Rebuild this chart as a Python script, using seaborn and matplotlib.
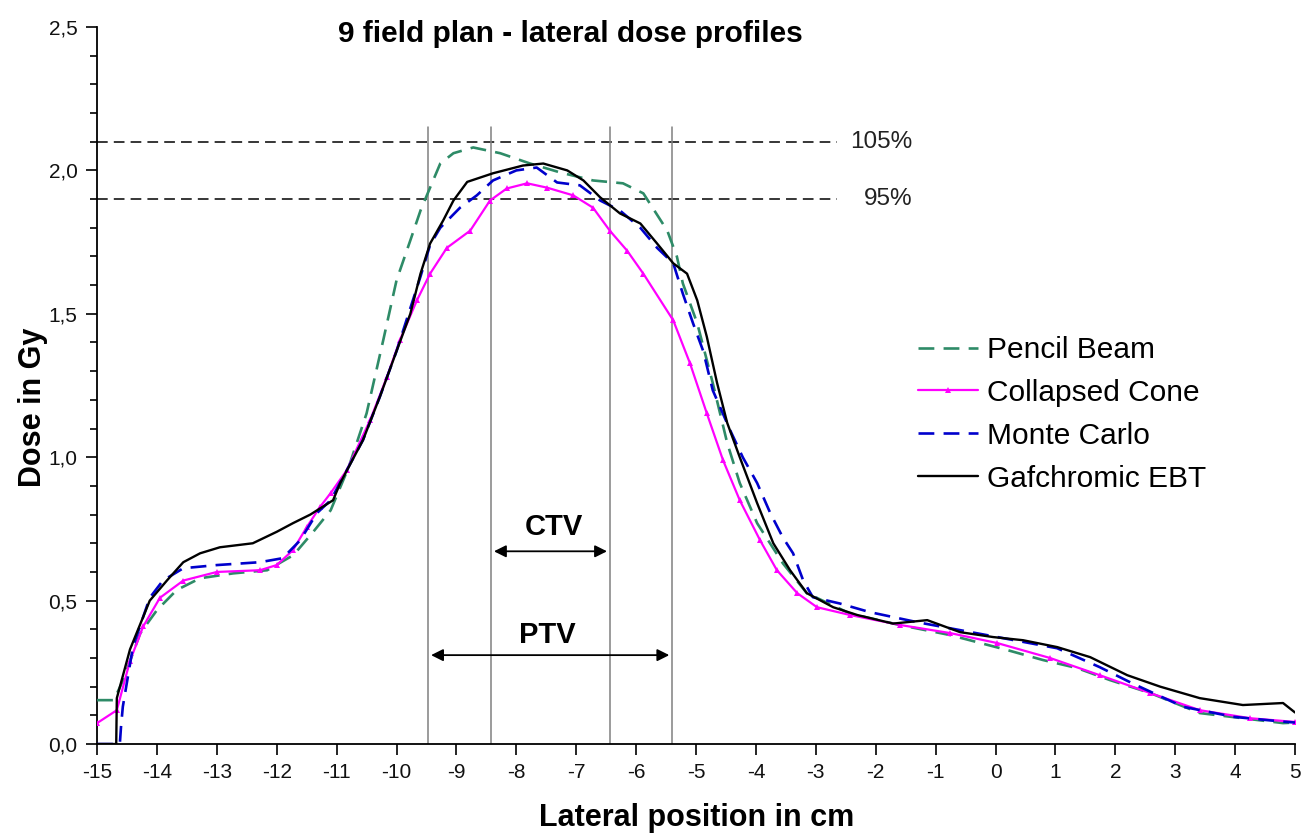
import matplotlib
matplotlib.use("Agg")
import matplotlib.pyplot as plt
import seaborn as sns
import pandas as pd

# 数据准备
pb_x = [-15.0, -14.72, -14.57, -14.28, -14.0, -13.67, -13.28, -12.73, -12.16, -11.72, -11.39, -11.1,
        -10.8, -10.5, -10.22, -10.0, -9.77, -9.6, -9.44, -9.27, -9.05, -8.72, -8.27, -7.77, -7.27,
        -6.72, -6.22, -5.88, -5.48, -5.32, -5.22, -4.98, -4.72, -4.48, -4.27, -3.98, -3.55, -3.15,
        -2.43, -1.6, -0.76, 0.19, 0.79, 1.36, 1.91, 2.58, 3.41, 4.8, 5.0]
pb_y = [0.153, 0.153, 0.22, 0.386, 0.467, 0.537, 0.578, 0.595, 0.606, 0.659, 0.74, 0.815,
        0.965, 1.153, 1.41, 1.617, 1.756, 1.86, 1.94, 2.024, 2.06, 2.08, 2.06, 2.024, 1.993,
        1.965, 1.955, 1.92, 1.79, 1.70, 1.606, 1.467, 1.258, 1.05, 0.91, 0.77, 0.63, 0.526,
        0.455, 0.415, 0.38, 0.328, 0.293, 0.265, 0.223, 0.178, 0.108, 0.073, 0.075]

cc_x = [-15.0, -14.67, -14.45, -14.23, -13.95, -13.56, -13.0, -12.28, -12.0, -11.73, -11.5, -11.28,
        -11.1, -10.83, -10.44, -10.16, -9.94, -9.66, -9.44, -9.16, -8.77, -8.44, -8.16, -7.82, -7.49,
        -7.05, -6.72, -6.44, -6.15, -5.88, -5.38, -5.1, -4.82, -4.55, -4.27, -3.93, -3.65, -3.31,
        -2.98, -2.43, -1.59, -0.76, 0.03, 0.91, 1.74, 2.58, 3.41, 4.25, 5.0]
cc_y = [0.073, 0.118, 0.29, 0.41, 0.51, 0.57, 0.60, 0.606, 0.624, 0.676, 0.756, 0.826,
        0.875, 0.955, 1.13, 1.28, 1.41, 1.547, 1.64, 1.73, 1.79, 1.895, 1.937, 1.955, 1.94,
        1.913, 1.87, 1.79, 1.72, 1.64, 1.477, 1.327, 1.153, 0.99, 0.85, 0.71, 0.606, 0.526,
        0.477, 0.45, 0.415, 0.387, 0.352, 0.30, 0.24, 0.178, 0.118, 0.09, 0.077]

mc_x = [-15.0, -14.62, -14.6, -14.57, -14.4, -14.12, -13.9, -13.56, -13.0, -12.28, -11.9, -11.61,
        -11.33, -11.1, -10.56, -10.28, -10.0, -9.6, -9.44, -9.27, -8.94, -8.66, -8.39, -8.0, -7.66,
        -7.32, -6.94, -6.6, -6.27, -5.93, -5.65, -5.38, -5.22, -5.05, -4.88, -4.72, -4.43, -4.22,
        -3.98, -3.76, -3.55, -3.38, -3.21, -3.05, -2.6, -2.1, -1.31, 0.03, 1.03, 1.74, 2.3, 3.13,
        3.97, 4.8, 5.0]
mc_y = [0.0, 0.0, 0.06, 0.13, 0.34, 0.51, 0.57, 0.613, 0.624, 0.634, 0.648, 0.71,
        0.805, 0.85, 1.06, 1.21, 1.37, 1.63, 1.74, 1.80, 1.87, 1.913, 1.965, 2.0, 2.01,
        1.958, 1.948, 1.895, 1.86, 1.80, 1.73, 1.676, 1.57, 1.467, 1.37, 1.233, 1.094, 1.0,
        0.91, 0.805, 0.72, 0.665, 0.57, 0.512, 0.49, 0.46, 0.425, 0.373, 0.334, 0.268, 0.21, 0.13,
        0.095, 0.078, 0.075]

ebt_x = [-15.0, -14.68, -14.67, -14.45, -14.12, -13.83, -13.56, -13.28, -12.95, -12.4, -12.0, -11.73,
         -11.44, -11.06, -10.94, -10.56, -10.28, -10.0, -9.77, -9.6, -9.44, -9.22, -9.05, -8.82,
         -8.39, -7.89, -7.55, -7.15, -6.88, -6.6, -6.27, -5.93, -5.65, -5.38, -5.15, -4.98, -4.82,
         -4.65, -4.48, -4.27, -3.98, -3.71, -3.43, -3.15, -2.71, -2.31, -1.71, -1.14, -0.59, -0.04,
         0.46, 1.03, 1.58, 2.2, 2.75, 3.41, 4.13, 4.8, 5.0]
ebt_y = [0.0, 0.0, 0.16, 0.33, 0.50, 0.571, 0.634, 0.665, 0.686, 0.70, 0.74, 0.77,
         0.80, 0.85, 0.91, 1.06, 1.21, 1.37, 1.50, 1.64, 1.745, 1.826, 1.895, 1.96,
         1.99, 2.017, 2.024, 2.0, 1.965, 1.906, 1.85, 1.815, 1.745, 1.676, 1.64, 1.547, 1.42,
         1.26, 1.12, 1.0, 0.84, 0.70, 0.606, 0.526, 0.477, 0.45, 0.42, 0.432, 0.39, 0.373,
         0.362, 0.338, 0.303, 0.24, 0.20, 0.16, 0.136, 0.143, 0.11]

series_names = ['Pencil Beam', 'Collapsed Cone', 'Monte Carlo', 'Gafchromic EBT']

# reference levels and target volume borders
ref_levels = [2.1, 1.9]
ref_labels = ['105%', '95%']
ptv_edges = [-9.47, -5.4]
ctv_edges = [-8.42, -6.44]

x_ticks = list(range(-15, 6))
y_ticks = [0.0, 0.5, 1.0, 1.5, 2.0, 2.5]
y_tick_labels = ['0,0', '0,5', '1,0', '1,5', '2,0', '2,5']

sns.set_theme(style='ticks')
plt.rcParams['font.family'] = ['Liberation Sans', 'DejaVu Sans']
plt.rcParams['text.color'] = 'black'
plt.rcParams['xtick.labelcolor'] = '#111111'
plt.rcParams['ytick.labelcolor'] = '#111111'

fig = plt.figure(figsize=(13.01, 8.36), dpi=100)
ax = fig.add_axes([0.0746, 0.110, 0.9208, 0.8577])

# 参考线
for lvl, lab in zip(ref_levels, ref_labels):
    ax.plot([-15, -2.65], [lvl, lvl], color='black', lw=1.1, linestyle=(0, (7, 4)), zorder=1)
    ax.text(-1.38, lvl, lab, ha='right', va='center', fontsize=17.5, color='#222222')

for xv in ptv_edges + ctv_edges:
    ax.plot([xv, xv], [0, 2.15], color='#808080', lw=1.1, zorder=1)

# 曲线
df_pb = pd.DataFrame({'x': pb_x, 'y': pb_y})
df_cc = pd.DataFrame({'x': cc_x, 'y': cc_y})
df_mc = pd.DataFrame({'x': mc_x, 'y': mc_y})
df_ebt = pd.DataFrame({'x': ebt_x, 'y': ebt_y})

sns.lineplot(data=df_pb, x='x', y='y', ax=ax, sort=False, estimator=None, color='#2e8b67',
             lw=1.9, linestyle=(0, (6, 3.5)), label=series_names[0], zorder=3)
sns.lineplot(data=df_cc, x='x', y='y', ax=ax, sort=False, estimator=None, color='#ff00ff',
             lw=1.6, marker='^', markersize=5, markeredgewidth=0, label=series_names[1], zorder=4)
sns.lineplot(data=df_mc, x='x', y='y', ax=ax, sort=False, estimator=None, color='#0000cc',
             lw=1.9, linestyle=(0, (6, 3.5)), label=series_names[2], zorder=5)
sns.lineplot(data=df_ebt, x='x', y='y', ax=ax, sort=False, estimator=None, color='black',
             lw=1.7, label=series_names[3], zorder=6)

# CTV / PTV arrows
ax.annotate('', xy=(ctv_edges[0], 0.672), xytext=(ctv_edges[1], 0.672),
            arrowprops=dict(arrowstyle='<|-|>', color='black', lw=1.3, mutation_scale=18))
ax.text(sum(ctv_edges) / 2 + 0.05, 0.755, 'CTV', ha='center', va='center', fontsize=21, fontweight='bold')
ax.annotate('', xy=(ptv_edges[0], 0.31), xytext=(ptv_edges[1], 0.31),
            arrowprops=dict(arrowstyle='<|-|>', color='black', lw=1.3, mutation_scale=18))
ax.text(-7.48, 0.38, 'PTV', ha='center', va='center', fontsize=21, fontweight='bold')

ax.set_xlim(-15, 5)
ax.set_ylim(0, 2.5)
ax.set_xticks(x_ticks)
ax.set_xticklabels([str(v) for v in x_ticks], fontsize=15)
ax.set_yticks(y_ticks)
ax.set_yticklabels(y_tick_labels, fontsize=15)
ax.set_yticks([i / 10 for i in range(26)], minor=True)
ax.tick_params(axis='both', which='major', direction='out', length=8, width=1.2, color='black', pad=6)
ax.tick_params(axis='y', which='minor', direction='out', length=5, width=1.2, color='black')
for s in ['top', 'right']:
    ax.spines[s].set_visible(False)
for s in ['left', 'bottom']:
    ax.spines[s].set_color('black')
    ax.spines[s].set_linewidth(1.3)
ax.set_xlabel('')
ax.set_ylabel('')
ax.set_facecolor('white')

fig.text(0.5355, 0.022, 'Lateral position in cm', ha='center', va='center', fontsize=22, fontweight='bold')
fig.text(0.025, 0.513, 'Dose in Gy', ha='center', va='center', rotation=90, fontsize=22, fontweight='bold')
ax.text(-7.1, 2.475, '9 field plan - lateral dose profiles', ha='center', va='center',
        fontsize=21.5, fontweight='bold')

leg = ax.legend(loc='upper left', bbox_to_anchor=(918 / 1301, 1 - 336 / 836), bbox_transform=fig.transFigure,
                frameon=False, fontsize=21.5, handlelength=2.0, handletextpad=0.3, labelspacing=0.5,
                borderpad=0, borderaxespad=0)

fig.savefig('out.png', dpi=100, facecolor='white')
